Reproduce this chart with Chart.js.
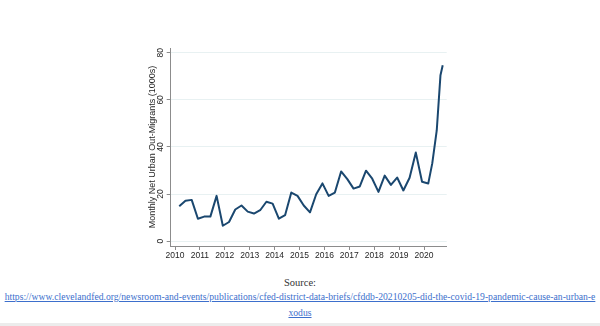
<!DOCTYPE html>
<html>
<head>
<meta charset="utf-8">
<script src="https://cdn.jsdelivr.net/npm/chart.js@4"></script>
<style>
  html, body { margin: 0; padding: 0; background: #fff; }
  body { width: 600px; height: 326px; position: relative; overflow: hidden; }
  #wrap { position: absolute; left: 0; top: 0; width: 600px; height: 270px; }
  .src { position: absolute; left: 0; width: 600px; text-align: center;
         font-family: "Liberation Serif", serif; color: #333; white-space: nowrap; }
  #source { top: 277px; font-size: 10.5px; }
  #link { top: 289px; font-size: 9.5px; line-height: 16px; }
  #link a { color: #3d6fcc; text-decoration: underline; }
  #strip { position: absolute; left: 0; top: 323px; width: 600px; height: 3px; background: #ececec; }
</style>
</head>
<body>
<div id="wrap"><canvas id="myChart" width="600" height="270"></canvas></div>
<div class="src" id="source">Source:</div>
<div class="src" id="link"><a href="#" id="linkA">https://www.clevelandfed.org/newsroom-and-events/publications/cfed-district-data-briefs/cfddb-20210205-did-the-covid-19-pandemic-cause-an-urban-e<br>xodus</a></div>
<div id="strip"></div>
<script>
// quarterly points (decimal years), denser at the end of 2020
const years = [
  2010.17, 2010.42, 2010.67, 2010.92,
  2011.17, 2011.42, 2011.67, 2011.92,
  2012.17, 2012.42, 2012.67, 2012.92,
  2013.17, 2013.42, 2013.67, 2013.92,
  2014.17, 2014.42, 2014.67, 2014.92,
  2015.17, 2015.42, 2015.67, 2015.92,
  2016.17, 2016.42, 2016.67, 2016.92,
  2017.17, 2017.42, 2017.67, 2017.92,
  2018.17, 2018.42, 2018.67, 2018.92,
  2019.17, 2019.42, 2019.67, 2019.92,
  2020.17, 2020.33, 2020.51, 2020.66, 2020.75,
];
const outMigrants = [
  14.8, 17.1, 17.5, 9.5,
  10.4, 10.4, 19.2, 6.5,
  8.1, 13.4, 15.1, 12.5,
  11.7, 13.1, 16.7, 15.9,
  9.5, 11.0, 20.6, 19.2,
  15.1, 12.2, 19.9, 24.5,
  19.2, 20.6, 29.6, 26.3,
  22.3, 23.2, 29.9, 26.5,
  20.9, 27.8, 23.9, 27.0,
  21.5, 26.9, 37.6, 25.2,
  24.5, 33.0, 47.0, 70.5, 74.7,
];
const xTicks = [2010, 2011, 2012, 2013, 2014, 2015, 2016, 2017, 2018, 2019, 2020];
const yTicks = [0, 20, 40, 60, 80];

const yTitle = "Monthly Net Urban Out-Migrants (1000s)";
const axisGray = "#8c8c8c";
const textGray = "#262626";
const tickFont = { family: "Liberation Sans", size: 8.5 };
const titleFont = { family: "Liberation Sans", size: 9 };

const points = years.map((x, i) => ({ x: x, y: outMigrants[i] }));

const ctx = document.getElementById("myChart").getContext("2d");
const myChart = new Chart(ctx, {
  type: "line",
  data: {
    datasets: [
      {
        data: points,
        borderColor: "#1a476f",
        borderWidth: 2,
        borderJoinStyle: "round",
        pointRadius: 0,
        tension: 0,
      },
    ],
  },
  options: {
    responsive: false,
    animation: false,
    events: [],
    layout: { padding: { left: 147.6, top: 48, right: 153.3, bottom: 0 } },
    plugins: { legend: { display: false }, tooltip: { enabled: false } },
    scales: {
      x: {
        type: "linear",
        min: 2009.827,
        max: 2020.91,
        afterBuildTicks: (s) => { s.ticks = xTicks.map((v) => ({ value: v })); },
        afterFit: (s) => { s.height = 24; },
        border: { display: true, color: axisGray, width: 1 },
        grid: { drawOnChartArea: false, drawTicks: true, tickLength: 4, tickColor: axisGray },
        ticks: {
          color: textGray,
          font: tickFont,
          padding: 0.5,
          maxRotation: 0,
          autoSkip: false,
          callback: (v) => String(v),
        },
      },
      y: {
        min: -2.1,
        max: 82.05,
        afterBuildTicks: (s) => { s.ticks = yTicks.map((v) => ({ value: v })); },
        afterFit: (s) => { s.width = 23.1; },
        border: { display: true, color: axisGray, width: 1 },
        grid: { color: "#e8f1f2", lineWidth: 1, drawTicks: true, tickLength: 4, tickColor: axisGray },
        title: { display: true, text: yTitle, color: textGray, font: titleFont, padding: 0 },
        ticks: {
          color: textGray,
          font: tickFont,
          padding: 1,
          minRotation: 90,
          maxRotation: 90,
          crossAlign: "center",
          callback: (v) => String(v),
        },
      },
    },
  },
});

// fit the long source link onto one line like the reference
const link = document.getElementById("link");
const target = 592;
link.style.display = "inline-block";
link.style.width = "auto";
const w = link.getBoundingClientRect().width;
link.style.display = "";
link.style.width = "600px";
link.style.fontSize = (9.5 * target / w) + "px";
</script>
</body>
</html>
